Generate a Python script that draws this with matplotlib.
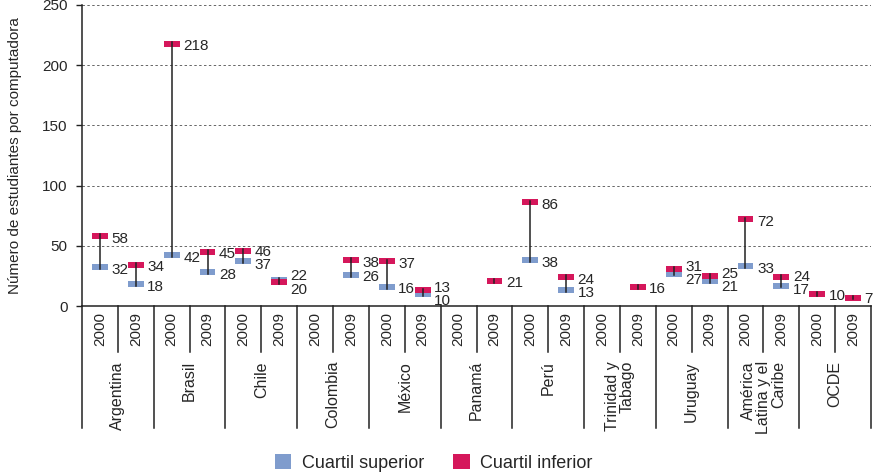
import numpy as np
import matplotlib
matplotlib.use("Agg")
import matplotlib.pyplot as plt
from matplotlib.patches import Patch

plt.rcParams['font.family'] = ['Liberation Sans', 'DejaVu Sans']

countries = ["Argentina", "Brasil", "Chile", "Colombia", "México", "Panamá", "Perú",
             "Trinidad y\nTabago", "Uruguay", "América\nLatina y el\nCaribe", "OCDE"]
years = ["2000", "2009"]

# Cuartil superior (blue) / Cuartil inferior (red), two years per country
upper = [32, 18, 42, 28, 37, 22, np.nan, 26, 16, 10, np.nan, 21,
         38, 13, np.nan, 16, 27, 21, 33, 17, 10, 7]
lower = [58, 34, 218, 45, 46, 20, np.nan, 38, 37, 13, np.nan, 21,
         86, 24, np.nan, 16, 31, 25, 72, 24, 10, 7]

blue = '#7f9ccd'
red = '#d5175b'
txt = '#262626'

fig = plt.figure(figsize=(8.73, 4.74), dpi=100)
ax = fig.add_axes([82/873, 1-306/474, 789/873, 301/474])

n = len(upper)
x = np.arange(n)
up = np.array(upper, dtype=float)
lo = np.array(lower, dtype=float)
mh = 5.0   # marker height in data units
mw = 0.44

ax.bar(x, mh, bottom=up - mh/2, width=mw, color=blue, zorder=3)
ax.bar(x, mh, bottom=lo - mh/2, width=mw, color=red, zorder=4)

for i in range(n):
    if np.isnan(up[i]):
        continue
    a, b = min(up[i], lo[i]), max(up[i], lo[i])
    ax.plot([i, i], [a - 1.5, b + 1.5], color='#222222', lw=1.1, zorder=5)
    lx = i + 0.32
    if a == b:
        ax.text(lx, a - 1.5, f"{int(a)}", fontsize=11, color=txt, va='center', ha='left')
        continue
    if b - a < 11:
        mid = (a + b) / 2
        ya, yb = mid - 5.6, mid + 5.6
    else:
        ya, yb = a, b
    ax.text(lx, ya - 2, f"{int(a)}", fontsize=11, color=txt, va='center', ha='left')
    ax.text(lx, yb - 2, f"{int(b)}", fontsize=11, color=txt, va='center', ha='left')

ax.set_xlim(-0.5, n - 0.5)
ax.set_ylim(0, 250)
ax.set_yticks([0, 50, 100, 150, 200, 250])
ax.set_xticks([])
ax.tick_params(axis='y', length=4, width=1, pad=6.5, labelsize=11, labelcolor=txt, color='#222222')
for yv in [50, 100, 150, 200, 250]:
    ax.axhline(yv, color='#666666', lw=0.7, ls=(0, (2.5, 2.5)), zorder=1)
for s in ['top', 'right']:
    ax.spines[s].set_visible(False)
for s in ['left', 'bottom']:
    ax.spines[s].set_color('#222222')
    ax.spines[s].set_linewidth(1.1)
ax.set_ylabel("Número de estudiantes por computadora", fontsize=11, color=txt, labelpad=14)

# category table below the axis
tr = ax.get_xaxis_transform()
px = 1 / 301
for k in range(len(countries) + 1):
    ax.plot([k*2 - 0.5]*2, [0, -122*px], color='#222222', lw=1.1, transform=tr, clip_on=False)
for k in range(len(countries)):
    ax.plot([k*2 + 0.5]*2, [0, -46*px], color='#222222', lw=1.1, transform=tr, clip_on=False)
    for j, yr in enumerate(years):
        ax.text(k*2 + j, -6*px, yr, rotation=90, fontsize=11, color=txt,
                ha='center', va='top', transform=tr)
    ax.text(k*2 + 0.5, -55*px, countries[k], rotation=90, fontsize=11.5, color=txt,
            ha='center', va='top', multialignment='right', transform=tr, linespacing=1.0)

handles = [Patch(facecolor=blue, label='Cuartil superior'),
           Patch(facecolor=red, label='Cuartil inferior')]
fig.legend(handles=handles, loc='center', bbox_to_anchor=(0.497, 1-463/474), ncol=2,
           frameon=False, fontsize=13, handlelength=0.9, handleheight=0.9,
           handletextpad=0.6, columnspacing=1.6, labelcolor=txt)

fig.savefig("out.png", dpi=100)
